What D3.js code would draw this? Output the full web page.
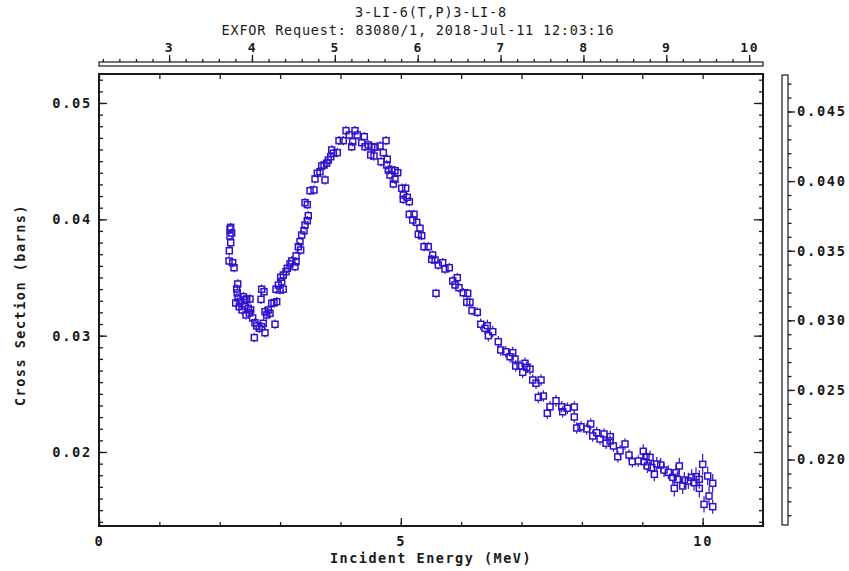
<!DOCTYPE html>
<html>
<head>
<meta charset="utf-8">
<script src="https://cdn.jsdelivr.net/npm/d3@7"></script>
<style>
  body { margin: 0; background: #fff; }
  svg { display: block; }
</style>
</head>
<body>
<div class="container"></div>
<script>
// 3-LI-6(T,P)3-LI-8 cross section, EXFOR plot

var title = "3-LI-6(T,P)3-LI-8";
var subtitle = "EXFOR Request: 83080/1, 2018-Jul-11 12:03:16";
var xLabel = "Incident Energy (MeV)";
var yLabel = "Cross Section (barns)";

// incident energy (MeV)
var energy = [
  2.154,2.159,2.170,2.170,2.182,2.182,2.198,2.215,2.237,2.265,
  2.281,2.291,2.298,2.303,2.324,2.336,2.369,2.391,2.407,2.419,
  2.435,2.447,2.473,2.490,2.502,2.513,2.546,2.573,2.584,2.613,
  2.656,2.684,2.695,2.695,2.722,2.734,2.750,2.750,2.778,2.805,
  2.833,2.861,2.899,2.916,2.932,2.944,2.971,2.999,3.010,3.027,
  3.053,3.053,3.098,3.120,3.164,3.192,3.247,3.264,3.264,3.302,
  3.330,3.341,3.358,3.396,3.413,3.413,3.451,3.451,3.467,3.496,
  3.562,3.579,3.617,3.661,3.689,3.728,3.744,3.772,3.799,3.839,
  3.855,3.882,3.948,3.976,4.047,4.092,4.147,4.187,4.203,4.241,
  4.279,4.352,4.395,4.407,4.461,4.501,4.518,4.556,4.573,4.655,
  4.672,4.710,4.755,4.766,4.776,4.793,4.821,4.849,4.876,4.904,
  4.904,4.949,5.015,5.041,5.041,5.081,5.108,5.141,5.141,5.197,
  5.219,5.263,5.290,5.318,5.346,5.384,5.455,5.512,5.528,5.567,
  5.583,5.621,5.694,5.732,5.803,5.860,5.898,5.936,5.964,6.035,
  6.092,6.108,6.146,6.179,6.267,6.324,6.395,6.433,6.450,6.523,
  6.615,6.655,6.738,6.809,6.854,6.892,6.903,6.975,7.019,7.058,
  7.086,7.140,7.185,7.240,7.278,7.323,7.361,7.427,7.472,7.571,
  7.666,7.682,7.758,7.874,7.874,7.914,7.985,8.080,8.146,8.179,
  8.245,8.300,8.366,8.400,8.466,8.471,8.521,8.594,8.632,8.714,
  8.780,8.835,8.935,9.017,9.029,9.062,9.084,9.129,9.157,9.200,
  9.240,9.306,9.360,9.432,9.505,9.531,9.559,9.581,9.614,9.670,
  9.697,9.763,9.819,9.857,9.890,9.945,9.945,10.001,10.023,10.084,
  10.106,10.167,10.167
];

// cross section (barns)
var sigma = [
  0.03642,0.03730,0.03917,0.03857,0.03931,0.03799,0.03882,0.03627,0.03584,0.03281,
  0.03401,0.03367,0.03444,0.03324,0.03249,0.03292,0.03221,0.03335,0.03255,0.03307,
  0.03178,0.03315,0.03235,0.03195,0.03315,0.03221,0.03152,0.02983,0.03111,0.03083,
  0.03063,0.03312,0.03399,0.03077,0.03106,0.03378,0.03206,0.03025,0.03178,0.03221,
  0.03192,0.03278,0.03283,0.03098,0.03399,0.03292,0.03435,0.03393,0.03502,0.03464,
  0.03399,0.03521,0.03550,0.03579,0.03616,0.03642,0.03593,0.03636,0.03685,0.03765,
  0.03808,0.03736,0.03865,0.03902,0.03951,0.04143,0.03988,0.04126,0.04031,0.04246,
  0.04252,0.04347,0.04396,0.04409,0.04458,0.04467,0.04338,0.04482,0.04510,0.04538,
  0.04596,0.04568,0.04573,0.04676,0.04676,0.04762,0.04725,0.04624,0.04667,0.04762,
  0.04725,0.04659,0.04710,0.04624,0.04639,0.04553,0.04624,0.04544,0.04619,0.04630,
  0.04495,0.04573,0.04676,0.04467,0.04516,0.04424,0.04381,0.04424,0.04304,0.04418,
  0.04344,0.04401,0.04267,0.04209,0.04172,0.04267,0.04189,0.04152,0.04043,0.03994,
  0.04043,0.03974,0.03871,0.03923,0.03859,0.03765,0.03765,0.03656,0.03693,0.03650,
  0.03364,0.03607,0.03627,0.03573,0.03584,0.03470,0.03436,0.03498,0.03412,0.03369,
  0.03287,0.03364,0.03287,0.03215,0.03201,0.03098,0.03063,0.03086,0.03000,0.03034,
  0.02948,0.02877,0.02862,0.02819,0.02854,0.02799,0.02739,0.02739,0.02685,0.02762,
  0.02728,0.02713,0.02619,0.02591,0.02470,0.02619,0.02481,0.02333,0.02389,0.02441,
  0.02389,0.02346,0.02376,0.02387,0.02301,0.02206,0.02217,0.02198,0.02241,0.02138,
  0.02166,0.02112,0.02155,0.02075,0.02095,0.02132,0.02052,0.01960,0.02011,0.02069,
  0.01974,0.01917,0.01923,0.02006,0.01917,0.01960,0.01880,0.01954,0.01865,0.01808,
  0.01897,0.01888,0.01845,0.01825,0.01782,0.01688,0.01822,0.01765,0.01880,0.01708,
  0.01759,0.01751,0.01782,0.01736,0.01788,0.01765,0.01688,0.01894,0.01550,0.01794,
  0.01622,0.01731,0.01530
];

// uncertainty (barns)
var dsigma = [
  0.0004,0.0004,0.0004,0.0004,0.0004,0.0004,0.0004,0.0004,0.0004,0.0004,
  0.0004,0.0004,0.0004,0.0004,0.0004,0.0004,0.0004,0.0004,0.0004,0.0004,
  0.0004,0.0004,0.0004,0.0004,0.0004,0.0004,0.0004,0.0004,0.0004,0.0004,
  0.0004,0.0004,0.0004,0.0004,0.0004,0.0004,0.0004,0.0004,0.0004,0.0004,
  0.0004,0.0004,0.0004,0.0004,0.0004,0.0004,0.0004,0.0004,0.0004,0.0004,
  0.0004,0.0004,0.0004,0.0004,0.0004,0.0004,0.0004,0.0004,0.0004,0.0004,
  0.0004,0.0004,0.0004,0.0004,0.0004,0.0004,0.0004,0.0004,0.0004,0.0004,
  0.0004,0.0004,0.0004,0.0004,0.0004,0.0004,0.0004,0.0004,0.0004,0.0004,
  0.0004,0.0004,0.0004,0.0004,0.0004,0.0004,0.0004,0.0004,0.0004,0.0004,
  0.0004,0.0004,0.0004,0.0004,0.0004,0.0004,0.0004,0.0004,0.0004,0.0004,
  0.0004,0.0004,0.0004,0.0004,0.0004,0.0004,0.0004,0.0004,0.0004,0.0004,
  0.0004,0.0004,0.0004,0.0004,0.0004,0.0004,0.0004,0.0004,0.0004,0.0004,
  0.0004,0.0004,0.0004,0.0004,0.0004,0.0004,0.0004,0.0004,0.0004,0.0004,
  0.0004,0.0004,0.0004,0.0004,0.0004,0.0004,0.0004,0.0004,0.0004,0.0004,
  0.0004,0.0004,0.0004,0.0004,0.0004,0.0005,0.0005,0.0005,0.0005,0.0005,
  0.0005,0.0005,0.0005,0.0005,0.0005,0.0005,0.0005,0.0005,0.0005,0.0005,
  0.0005,0.0005,0.0005,0.0005,0.0005,0.0005,0.0005,0.0005,0.0005,0.0005,
  0.0005,0.0005,0.0005,0.0005,0.0005,0.0005,0.0005,0.0005,0.0005,0.0005,
  0.0005,0.0005,0.0005,0.0005,0.0005,0.0005,0.0005,0.0005,0.0005,0.0005,
  0.0005,0.0005,0.0005,0.0006,0.0006,0.0006,0.0006,0.0006,0.0006,0.0006,
  0.0006,0.0006,0.0006,0.0006,0.0006,0.0007,0.0007,0.0007,0.0007,0.0007,
  0.0007,0.0007,0.0007,0.0007,0.0008,0.0008,0.0008,0.0009,0.0007,0.0008,
  0.0008,0.0008,0.0006
];

var topTicks = [3, 4, 5, 6, 7, 8, 9, 10];
var bottomTicks = [0, 5, 10];
var leftTicks = [0.02, 0.03, 0.04, 0.05];
var rightTicks = [0.020, 0.025, 0.030, 0.035, 0.040, 0.045];

var W = 849, H = 571;
var fl = 99, fr = 763, ft = 74, fb = 526;
var ink = "#1a1a1a";
var markColor = "#3311cc";
var fontMono = "'DejaVu Sans Mono', 'Liberation Mono', monospace";

var x = d3.scaleLinear().domain([0, 11]).range([fl, fr]);
var y = d3.scaleLinear().domain([0.01364, 0.05249]).range([fb, ft]);
// the secondary axes span the data range
var xTop = d3.scaleLinear().domain(d3.extent(energy)).range([fl, fr]);
var yRight = d3.scaleLinear().domain(d3.extent(sigma)).range([525, 75]);

var svg = d3.select(".container").append("svg")
  .attr("width", W).attr("height", H);
svg.append("rect").attr("width", W).attr("height", H).attr("fill", "#fff");

function styleAxis(g, bold) {
  g.select(".domain").remove();
  g.attr("font-family", fontMono).attr("font-size", 13.7)
    .attr("font-weight", bold ? "bold" : "normal");
  g.selectAll("line").attr("stroke", ink).attr("stroke-width", 1.3);
  g.selectAll("text").attr("fill", ink).attr("letter-spacing", "1.7px");
  return g;
}

function nums(a, b, step) {
  // evenly spaced tick positions, integer based to avoid float drift
  var out = [];
  for (var i = Math.round(a / step); i * step <= b + 1e-9; i++) out.push(+(i * step).toFixed(6));
  return out.filter(function(v) { return v >= a - 1e-9; });
}

// titles
svg.append("text").attr("x", 431).attr("y", 17).attr("text-anchor", "middle")
  .attr("font-family", fontMono).attr("font-size", 13.5).attr("letter-spacing", "0.8px")
  .attr("fill", ink).text(title);
svg.append("text").attr("x", 418).attr("y", 35).attr("text-anchor", "middle")
  .attr("font-family", fontMono).attr("font-size", 13.5).attr("letter-spacing", "0.8px")
  .attr("fill", ink).text(subtitle);

// top secondary axis (data energy range)
var topG = svg.append("g").attr("transform", "translate(0," + 62 + ")");
topG.append("g").call(d3.axisTop(xTop).tickValues(nums(2.2, xTop.domain()[1], 0.2)).tickSize(3).tickFormat(""))
  .call(styleAxis, true);
topG.append("g").call(d3.axisTop(xTop).tickValues(topTicks).tickSize(7).tickPadding(3).tickFormat(d3.format("d")))
  .call(styleAxis, true);
topG.selectAll("text").attr("font-size", 13);
svg.append("rect").attr("x", fl).attr("y", 62).attr("width", fr - fl).attr("height", 4)
  .attr("fill", "#fff").attr("stroke", ink).attr("stroke-width", 1.2);

// right secondary axis (data cross-section range)
var rightG = svg.append("g").attr("transform", "translate(" + 788 + ",0)");
rightG.append("g").call(d3.axisRight(yRight).tickValues(nums(0.016, yRight.domain()[1], 0.001)).tickSize(3.5).tickFormat(""))
  .call(styleAxis, true);
rightG.append("g").call(d3.axisRight(yRight).tickValues(rightTicks).tickSize(7).tickPadding(2).tickFormat(d3.format(".3f")))
  .call(styleAxis, true);
svg.append("rect").attr("x", 782).attr("y", 75).attr("width", 6).attr("height", 450)
  .attr("fill", "#fff").attr("stroke", ink).attr("stroke-width", 1.2);

// main frame ticks, pointing inward
var leftG = svg.append("g").attr("transform", "translate(" + fl + ",0)");
leftG.append("g").call(d3.axisLeft(y).tickValues(nums(0.014, 0.052, 0.001)).tickSize(-4).tickFormat(""))
  .call(styleAxis, true);
leftG.append("g").call(d3.axisLeft(y).tickValues(leftTicks).tickSize(-8).tickPadding(7).tickFormat(d3.format(".2f")))
  .call(styleAxis, true);

var rightFrame = svg.append("g").attr("transform", "translate(" + fr + ",0)");
rightFrame.append("g").call(d3.axisRight(y).tickValues(nums(0.014, 0.052, 0.001)).tickSize(-4).tickFormat(""))
  .call(styleAxis, true);
rightFrame.append("g").call(d3.axisRight(y).tickValues(leftTicks).tickSize(-9).tickFormat(""))
  .call(styleAxis, true);

var bottomG = svg.append("g").attr("transform", "translate(0," + fb + ")");
bottomG.append("g").call(d3.axisBottom(x).tickValues(d3.range(0, 12)).tickSize(-4).tickFormat(""))
  .call(styleAxis, true);
bottomG.append("g").call(d3.axisBottom(x).tickValues(bottomTicks).tickSize(-8).tickPadding(10).tickFormat(d3.format("d")))
  .call(styleAxis, true);

var topFrame = svg.append("g").attr("transform", "translate(0," + ft + ")");
topFrame.append("g").call(d3.axisTop(x).tickValues(d3.range(0, 12)).tickSize(-5).tickFormat(""))
  .call(styleAxis, true);

svg.append("rect").attr("x", fl).attr("y", ft).attr("width", fr - fl).attr("height", fb - ft)
  .attr("fill", "none").attr("stroke", ink).attr("stroke-width", 2);

// axis titles
svg.append("text").attr("x", 431).attr("y", 563).attr("text-anchor", "middle")
  .attr("font-family", fontMono).attr("font-size", 13.5).attr("font-weight", "bold")
  .attr("letter-spacing", "1.5px").attr("fill", ink).text(xLabel);
svg.append("text").attr("transform", "translate(25,305) rotate(-90)").attr("text-anchor", "middle")
  .attr("font-family", fontMono).attr("font-size", 13.5).attr("font-weight", "bold")
  .attr("letter-spacing", "1.5px").attr("fill", ink).text(yLabel);

// data
var points = energy.map(function(e, i) { return { e: e, s: sigma[i], d: dsigma[i] }; });
var half = 3;
var plot = svg.append("g");

plot.selectAll("path.err").data(points).enter().append("path")
  .attr("class", "err")
  .attr("d", function(p) {
    var cx = x(p.e), cy = y(p.s);
    var up = y(p.s + p.d), dn = y(p.s - p.d);
    var d = "";
    if (up < cy - half) d += "M" + cx + "," + up + "V" + (cy - half);
    if (dn > cy + half) d += "M" + cx + "," + (cy + half) + "V" + dn;
    return d || null;
  })
  .attr("stroke", markColor).attr("stroke-width", 1.2).attr("fill", "none");

plot.selectAll("rect.pt").data(points).enter().append("rect")
  .attr("class", "pt")
  .attr("x", function(p) { return x(p.e) - half; })
  .attr("y", function(p) { return y(p.s) - half; })
  .attr("width", half * 2).attr("height", half * 2)
  .attr("fill", "none").attr("stroke", markColor).attr("stroke-width", 1.5);
</script>
</body>
</html>
